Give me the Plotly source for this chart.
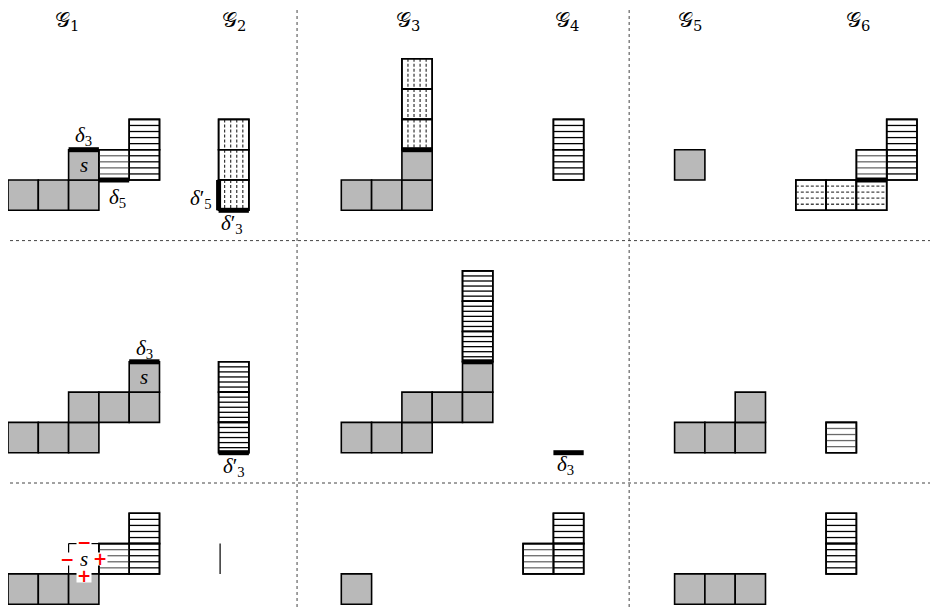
import plotly.graph_objects as go

# ---- grid geometry (cell units) ----
U = 30.3
X0 = 8.0
Y0 = -1.8
G2C = 6.95  # column of the G2 panel

# ---- data: cells (col, row) ----
gray_cells = [
    (0, 6), (1, 6), (2, 6), (2, 5),
    (11, 6), (12, 6), (13, 6), (13, 5),
    (22, 5),
    (0, 14), (1, 14), (2, 14), (2, 13), (3, 13), (4, 13), (4, 12),
    (11, 14), (12, 14), (13, 14), (13, 13), (14, 13), (15, 13), (15, 12),
    (22, 14), (23, 14), (24, 14), (24, 13),
    (0, 19), (1, 19), (2, 19),
    (11, 19),
    (22, 19), (23, 19), (24, 19),
]
# horizontal-hatched cells: (col, row, internal lines, light?)
hatch_cells = [
    (4, 4, 4, False), (4, 5, 4, False), (3, 5, 4, True),
    (18, 4, 4, False), (18, 5, 4, False),
    (29, 4, 4, False), (29, 5, 4, False), (28, 5, 4, True),
    (G2C, 12, 5, False), (G2C, 13, 5, False), (G2C, 14, 5, False),
    (15, 9, 5, False), (15, 10, 5, False), (15, 11, 5, False),
    (27, 14, 4, True),
    (4, 17, 4, False), (4, 18, 4, False), (3, 18, 4, True),
    (18, 17, 4, False), (18, 18, 4, False), (17, 18, 4, True),
    (27, 17, 4, False), (27, 18, 4, False),
]
vdash_cells = [(G2C, 4), (G2C, 5), (G2C, 6), (13, 2), (13, 3), (13, 4)]
hdash_cells = [(26, 6), (27, 6), (28, 6)]
# thick segments (c1, r1, c2, r2)
thick_segs = [
    (2, 5, 3, 5), (3, 6, 4, 6),
    (G2C, 6, G2C, 7), (G2C, 7, G2C + 1, 7),
    (13, 5, 14, 5), (28, 6, 29, 6),
    (4, 12, 5, 12), (G2C, 15, G2C + 1, 15), (15, 12, 16, 12), (18, 15, 19, 15),
]
thin_segs = [(7, 18, 7, 19), (2, 18, 3, 18), (2, 18, 2, 19)]
s_cells = [(2, 5), (4, 12), (2, 18)]

titles = ["𝒢<sub>1</sub>", "𝒢<sub>2</sub>", "𝒢<sub>3</sub>", "𝒢<sub>4</sub>", "𝒢<sub>5</sub>", "𝒢<sub>6</sub>"]
title_cols = [1.95, 7.45, 13.2, 18.45, 22.5, 28.05]

# labels: (text, col, row)
delta_labels = [
    ("<i>δ</i><sub>3</sub>", 2.48, 4.55),
    ("<i>δ</i><sub>5</sub>", 3.6, 6.6),
    ("<i>δ</i>′<sub>5</sub>", 6.38, 6.62),
    ("<i>δ</i>′<sub>3</sub>", 7.38, 7.45),
    ("<i>δ</i><sub>3</sub>", 4.52, 11.58),
    ("<i>δ</i>′<sub>3</sub>", 7.45, 15.47),
    ("<i>δ</i><sub>3</sub>", 18.4, 15.42),
]
signs = [("−", 2.5, 17.95), ("−", 1.95, 18.5), ("+", 3.05, 18.5), ("+", 2.5, 19.07)]

h_dividers = [8.0, 16.0]
v_dividers = [9.54, 20.5]

# browser body margin (the figure is offset by this many pixels on screen)
OFF = 8


def X(c):
    return X0 + c * U


def Y(r):
    return Y0 + r * U


shapes = []
GRAY = "#b9b9b9"


def rect(c, r, fill):
    shapes.append(dict(type="rect", x0=X(c), x1=X(c + 1), y0=Y(r), y1=Y(r + 1),
                       fillcolor=fill, line=dict(color="black", width=1.6), layer="above"))


def border(c, r):
    shapes.append(dict(type="rect", x0=X(c), x1=X(c + 1), y0=Y(r), y1=Y(r + 1),
                       fillcolor="rgba(0,0,0,0)", line=dict(color="black", width=1.6), layer="above"))


def seg(x0, y0, x1, y1, color="black", width=1.0, dash="solid"):
    shapes.append(dict(type="line", x0=x0, y0=y0, x1=x1, y1=y1,
                       line=dict(color=color, width=width, dash=dash), layer="above"))


for c, r in gray_cells:
    rect(c, r, GRAY)

for c, r, n, light in hatch_cells:
    rect(c, r, "white")
    for k in range(1, n + 1):
        yy = Y(r) + k * U / (n + 1)
        seg(X(c), yy, X(c + 1), yy, color="#6a6a6a" if light else "black", width=1.3)
    border(c, r)

for c, r in vdash_cells:
    rect(c, r, "white")
    for k in range(1, 5):
        xx = X(c) + k * U / 5
        seg(xx, Y(r), xx, Y(r + 1), color="#222", width=1.1, dash="3px,2px")
    border(c, r)

for c, r in hdash_cells:
    rect(c, r, "white")
    for k in range(1, 5):
        yy = Y(r) + k * U / 5
        seg(X(c), yy, X(c + 1), yy, color="#444", width=1.3, dash="3px,2px")
    border(c, r)

for c1, r1, c2, r2 in thick_segs:
    seg(X(c1), Y(r1), X(c2), Y(r2), width=5)

for c1, r1, c2, r2 in thin_segs:
    seg(X(c1), Y(r1), X(c2), Y(r2), width=1.2)

for yv in h_dividers:
    seg(-20, Y(yv), 960, Y(yv), color="#444", width=1, dash="dot")
for xv in v_dividers:
    seg(X(xv), -20, X(xv), 640, color="#444", width=1, dash="dot")

annotations = []
SERIF = "Liberation Serif"
for t, c in zip(titles, title_cols):
    annotations.append(dict(x=X(c), y=21, text=t, showarrow=False,
                            font=dict(family="DejaVu Serif", size=21, color="black")))
for c, r in s_cells:
    annotations.append(dict(x=X(c + 0.5), y=Y(r + 0.5), text="<i>s</i>", showarrow=False,
                            height=14, font=dict(family=SERIF, size=21, color="black")))
for t, c, r in delta_labels:
    annotations.append(dict(x=X(c), y=Y(r), text=t, showarrow=False,
                            font=dict(family=SERIF, size=21, color="black")))
for t, c, r in signs:
    annotations.append(dict(x=X(c), y=Y(r), text="<b>" + t + "</b>", showarrow=False,
                            bgcolor="white", borderpad=0, height=12,
                            font=dict(family="DejaVu Sans", size=17, color="red")))

fig = go.Figure()
fig.update_layout(
    width=938, height=609,
    margin=dict(l=0, r=0, t=0, b=0),
    paper_bgcolor="white", plot_bgcolor="white",
    xaxis=dict(range=[OFF, 938 + OFF], visible=False, fixedrange=True),
    yaxis=dict(range=[609 + OFF, OFF], visible=False, fixedrange=True),
    shapes=shapes, annotations=annotations, showlegend=False,
)
fig.write_html("out.html")
